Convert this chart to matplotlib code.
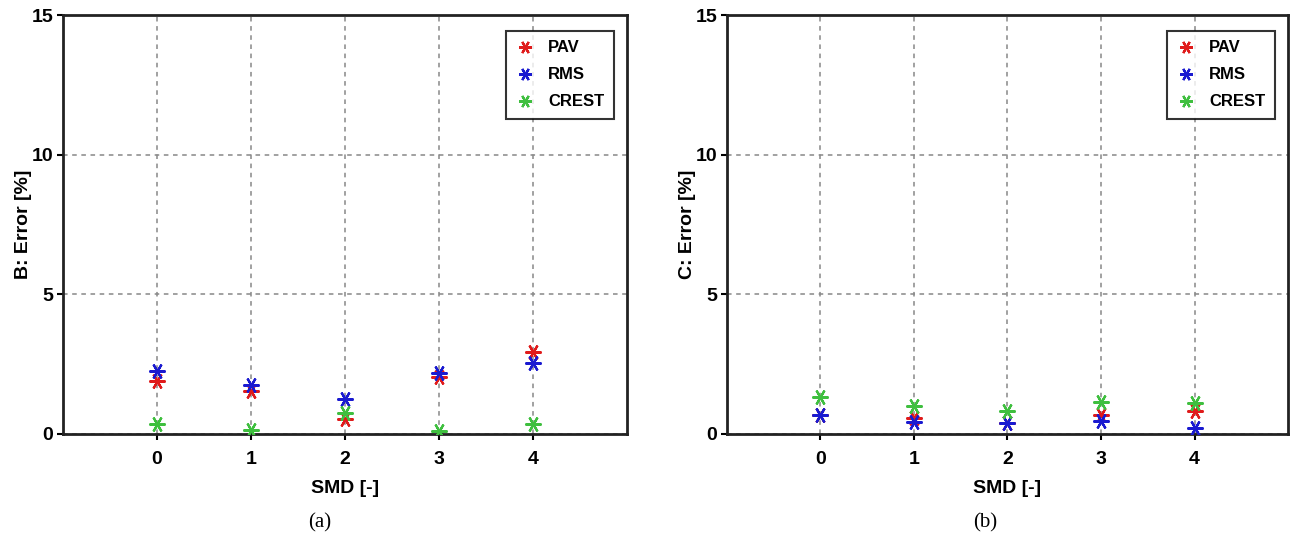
import matplotlib
matplotlib.use("Agg")
import matplotlib.pyplot as plt

smd = [0, 1, 2, 3, 4]
series_names = ["PAV", "RMS", "CREST"]
colors = ["#e01b1b", "#1a1ad0", "#3fbf3f"]

pav_b = [1.90, 1.55, 0.55, 2.05, 2.95]
rms_b = [2.25, 1.75, 1.25, 2.20, 2.55]
crest_b = [0.35, 0.15, 0.75, 0.12, 0.36]

pav_c = [0.67, 0.57, 0.40, 0.68, 0.84]
rms_c = [0.67, 0.43, 0.40, 0.47, 0.22]
crest_c = [1.32, 1.02, 0.84, 1.16, 1.10]

yticks = [0, 5, 10, 15]
ylabels = ["B: Error [%]", "C: Error [%]"]
panel_tags = ["(a)", "(b)"]

plt.rcParams['font.family'] = ['Liberation Sans', 'DejaVu Sans']

W, H = 1293, 538
fig = plt.figure(figsize=(W / 100, H / 100), dpi=100)

ax_specs = [(63, 627), (727, 1288)]
top_px, bot_px = 15, 434
tag_x = [320, 985]

marker = (6, 2, 30)

for i, (data, ylab) in enumerate([((pav_b, rms_b, crest_b), ylabels[0]),
                                   ((pav_c, rms_c, crest_c), ylabels[1])]):
    l, r = ax_specs[i]
    ax = fig.add_axes([l / W, 1 - bot_px / H, (r - l) / W, (bot_px - top_px) / H])
    for name, vals, c in zip(series_names, data, colors):
        ax.plot(smd, vals, linestyle='none', marker=marker, markersize=11.5,
                markeredgewidth=1.6, color=c, label=name, zorder=3)
    ax.set_xlim(-1, 5)
    ax.set_ylim(0, 15)
    ax.set_xticks(smd)
    ax.set_yticks(yticks)
    ax.grid(True, linestyle=(0, (3, 3)), color='#888888', linewidth=1.1)
    for s in ax.spines.values():
        s.set_linewidth(2.0)
        s.set_color('#222222')
    ax.tick_params(direction='out', length=4, width=1.5, labelsize=14)
    ax.tick_params(axis='x', pad=8)
    ax.tick_params(axis='y', pad=3)
    for t in ax.get_xticklabels() + ax.get_yticklabels():
        t.set_fontweight('bold')
    ax.set_xlabel("SMD [-]", fontsize=14, fontweight='bold', labelpad=9)
    ax.set_ylabel(ylab, fontsize=14, fontweight='bold', labelpad=0)
    leg = ax.legend(loc='upper right', prop={'weight': 'bold', 'size': 12},
                    frameon=True, fancybox=False, edgecolor='black',
                    handlelength=1.2, handletextpad=0.8, borderpad=0.55,
                    labelspacing=0.72, markerscale=0.8,
                    bbox_to_anchor=(0.991, 0.981))
    leg.get_frame().set_linewidth(1.5)
    fig.text(tag_x[i] / W, 1 - 523 / H, panel_tags[i], ha='center', va='center',
             fontsize=15, family='Liberation Serif')

fig.savefig("out.png", dpi=100, facecolor='white')
